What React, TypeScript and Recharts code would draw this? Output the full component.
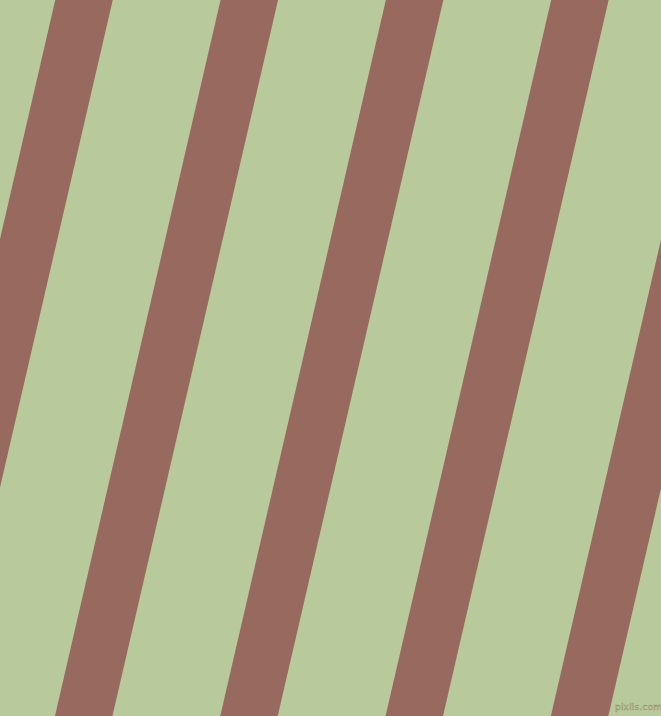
import { Line, LineChart, XAxis, YAxis } from 'recharts';

// Stripe centre lines: x where each band crosses the top and the bottom edge.
const stripeTopX = [84, 249.3, 414.6, 579.9, 745.2];
const stripeBottomX = [-81.6, 83.7, 249, 414.3, 579.6];
const edgeY = [0, 716];

const W = 661;
const H = 716;
const GREEN = '#b8ca9c';
const BROWN = '#98695f';

// Extend each band a little past the edges so the butt caps get clipped away.
function bandPoints(top: number, bottom: number) {
    const slope = (bottom - top) / (edgeY[1] - edgeY[0]);
    return [
        { x: top - slope * 60, y: edgeY[0] - 60 },
        { x: bottom + slope * 60, y: edgeY[1] + 60 },
    ];
}

export default function App() {
    return (
        <div style={{ position: 'relative', width: W, height: H, background: GREEN, overflow: 'hidden' }}>
            <style>{'body{margin:0}'}</style>
            <LineChart width={W} height={H} margin={{ top: 0, right: 0, bottom: 0, left: 0 }}>
                <XAxis type="number" dataKey="x" domain={[0, W]} allowDataOverflow hide />
                <YAxis type="number" dataKey="y" domain={[0, H]} reversed allowDataOverflow hide />
                {stripeTopX.map((t, i) => (
                    <Line
                        key={i}
                        data={bandPoints(t, stripeBottomX[i])}
                        dataKey="y"
                        type="linear"
                        stroke={BROWN}
                        strokeWidth={56}
                        dot={false}
                        activeDot={false}
                        isAnimationActive={false}
                    />
                ))}
            </LineChart>
            <span
                style={{
                    position: 'absolute',
                    left: 615,
                    top: 702,
                    fontFamily: 'DejaVu Sans, sans-serif',
                    fontSize: 9,
                    color: '#c9c6a6',
                    WebkitTextStroke: '0.4px #8f8866',
                    letterSpacing: 0.2,
                }}
            >
                pixlis.com
            </span>
        </div>
    );
}
